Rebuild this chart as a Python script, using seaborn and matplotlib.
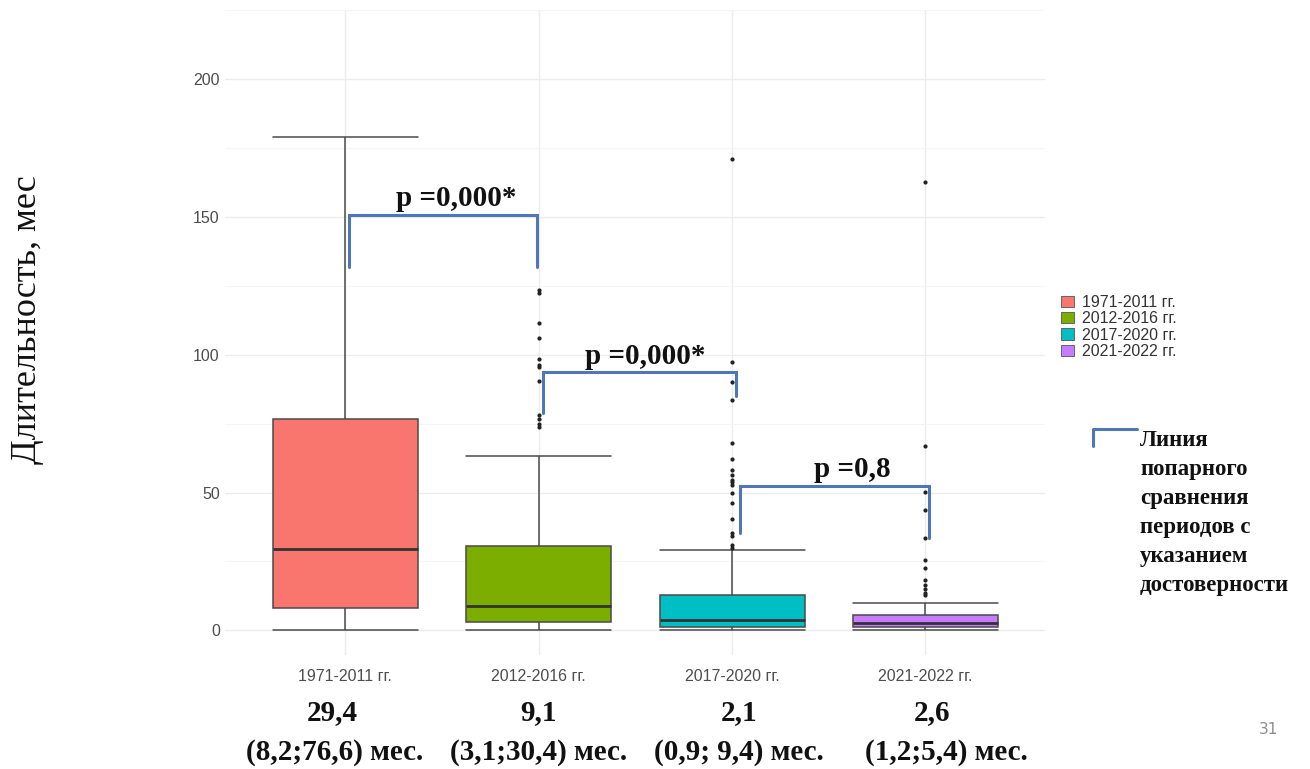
import numpy as np
import pandas as pd
import matplotlib
matplotlib.use("Agg")
import matplotlib.pyplot as plt
from matplotlib.ticker import MultipleLocator
from matplotlib.lines import Line2D
from matplotlib.patches import Patch
import matplotlib.transforms as mtransforms
import seaborn as sns

# ---------------- data ----------------
periods = ["1971-2011 гг.", "2012-2016 гг.", "2017-2020 гг.", "2021-2022 гг."]
whislo = [0.3, 0.2, 0.0, 0.0]
q1 = [8.0, 3.0, 1.2, 1.2]
med = [29.4, 9.0, 3.6, 2.6]
q3 = [76.5, 30.5, 12.7, 5.4]
whishi = [179.0, 63.4, 29.0, 9.9]

out_1971 = []
out_2012 = [123.5, 122.5, 111.5, 105.9, 98.6, 96.2, 95.4, 90.4, 78.0, 76.5, 74.8, 73.6]
out_2017 = [171.0, 97.4, 90.1, 83.7, 67.8, 62.0, 58.1, 56.5, 54.7, 53.8, 52.9,
            49.9, 46.2, 40.5, 35.3, 34.1, 30.9, 29.7]
out_2021 = [162.5, 66.8, 50.2, 43.6, 33.6, 25.4, 22.6, 18.1, 16.5, 15.0, 13.5, 12.7]
outliers = [out_1971, out_2012, out_2017, out_2021]

median_labels = ["29,4", "9,1", "2,1", "2,6"]
iqr_labels = ["(8,2;76,6) мес.", "(3,1;30,4) мес.", "(0,9; 9,4) мес.", "(1,2;5,4) мес."]

p_labels = ["p =0,000*", "p =0,000*", "p =0,8"]

colors = ["#F8766D", "#7CAE00", "#00BFC4", "#C77CFF"]
ylabel = "Длительность, мес"
legend_note = "Линия\nпопарного\nсравнения\nпериодов с\nуказанием\nдостоверности"

# ---------------- tables ----------------
box_rows = []
for i, p in enumerate(periods):
    for v in (whislo[i], q1[i], med[i], q3[i], whishi[i]):
        box_rows.append({"period": p, "value": v})
box_df = pd.DataFrame(box_rows)

out_rows = []
for p, vals in zip(periods, outliers):
    for v in vals:
        out_rows.append({"period": p, "value": v})
out_df = pd.DataFrame(out_rows)

# ---------------- figure ----------------
sns.set_theme(style="whitegrid")
fig = plt.figure(figsize=(13.10, 7.69), dpi=100)
fig.patch.set_facecolor("white")
ax = fig.add_axes([0.172, 0.148, 0.626, 0.839])

sns.boxplot(data=box_df, x="period", y="value", hue="period", order=periods,
            hue_order=periods, palette=colors, saturation=1, whis=(0, 100),
            width=0.75, linecolor="#4a4a4a", linewidth=1.1, showfliers=False,
            dodge=False, legend=True, ax=ax,
            medianprops={"color": "#333333", "linewidth": 2.0},
            capwidths=0.75)
sns.stripplot(data=out_df, x="period", y="value", order=periods, color="#222222",
              jitter=False, size=3.0, ax=ax, zorder=5)

ax.set_xlim(-0.62, 3.62)
ax.set_ylim(-9, 225)
ax.set_yticks([0, 50, 100, 150, 200])
ax.yaxis.set_minor_locator(MultipleLocator(25))
ax.set_facecolor("white")
ax.grid(True, which="major", color="#ECECEC", linewidth=1.0)
ax.grid(True, which="minor", axis="y", color="#F5F5F5", linewidth=0.8)
ax.set_axisbelow(True)
for s in ax.spines.values():
    s.set_visible(False)
ax.tick_params(axis="both", which="both", length=0, labelsize=11.5,
               labelcolor="#4D4D4D", pad=4)
ax.tick_params(axis="x", pad=10)
for lab in ax.get_xticklabels() + ax.get_yticklabels():
    lab.set_family("Liberation Sans")
ax.set_xlabel("")
ax.set_ylabel("")

# legend
handles = [Patch(facecolor=c, edgecolor="#555555", linewidth=0.6) for c in colors]
ax.legend(handles, periods, loc="upper left", bbox_to_anchor=(0.799, 0.635),
          bbox_transform=fig.transFigure, frameon=False,
          prop={"family": "Liberation Sans", "size": 11.5},
          handlelength=0.8, handleheight=0.7, handletextpad=0.5,
          labelspacing=0.08, labelcolor="#333333")

# y label
fig.text(0.021, 0.585, ylabel, rotation=90, ha="center", va="center",
         family="Liberation Serif", fontsize=26, color="#111111")

# p-value brackets (data coords)
bl = "#4F77B8"
brackets = [
    (0.02, 0.99, 150.6, 131.8, 131.8),
    (1.02, 2.02, 93.6, 78.8, 85.0),
    (2.04, 3.02, 52.3, 35.2, 33.4),
]
p_off = [0.07, 0.03, 0.09]
for (xa, xb, top, la, lb), lab, dx in zip(brackets, p_labels, p_off):
    ax.plot([xa, xa, xb, xb], [la, top, top, lb], color=bl, lw=2.2, zorder=6,
            solid_joinstyle="miter")
    ax.text((xa + xb) / 2 + dx, top + 1.0, lab, ha="center", va="bottom",
            family="Liberation Serif", fontweight="bold", fontsize=21,
            color="#111111", zorder=7)

# bottom annotations
trans = mtransforms.blended_transform_factory(ax.transData, fig.transFigure)
off1 = [-0.067, 0.0, 0.036, 0.036]
off2 = [-0.057, 0.0, 0.036, 0.108]
for i in range(len(periods)):
    fig.text(i + off1[i], 0.073, median_labels[i], transform=trans, ha="center",
             va="center", family="Liberation Serif", fontweight="bold",
             fontsize=21, color="#111111")
    fig.text(i + off2[i], 0.022, iqr_labels[i], transform=trans, ha="center",
             va="center", family="Liberation Serif", fontweight="bold",
             fontsize=21, color="#111111")

# bracket legend
fig.add_artist(Line2D([1093 / 1310, 1093 / 1310, 1137 / 1310],
                      [1 - 446 / 769, 1 - 429 / 769, 1 - 429 / 769],
                      transform=fig.transFigure, color=bl, lw=2.2))
fig.text(1140 / 1310, 1 - 430 / 769, legend_note, ha="left", va="top",
         family="Liberation Serif", fontweight="bold", fontsize=16.5,
         color="#111111", linespacing=1.5)

fig.text(1268 / 1310, 1 - 730 / 769, "31", ha="center", va="center",
         fontsize=11, color="#8C8C8C")

fig.savefig("out.png", dpi=100, facecolor="white")
